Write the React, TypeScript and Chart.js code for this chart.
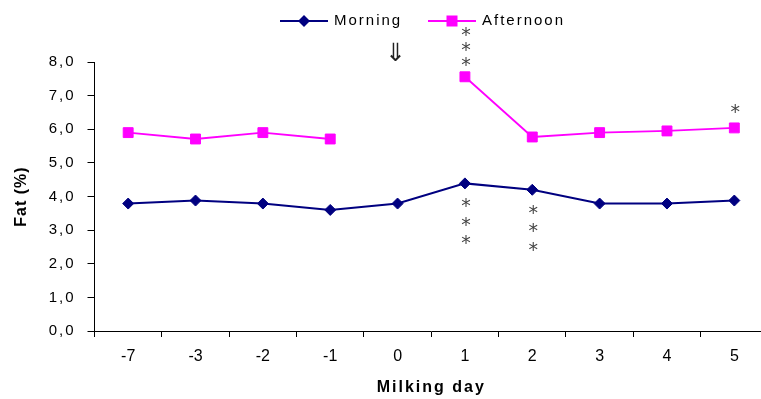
import React, { useEffect, useRef } from 'react';
import { Chart, registerables } from 'chart.js';

Chart.register(...registerables);

// ---- data ----
const days: string[] = ['-7', '-3', '-2', '-1', '0', '1', '2', '3', '4', '5'];
const morning: number[] = [3.79, 3.88, 3.79, 3.6, 3.79, 4.39, 4.2, 3.79, 3.79, 3.88];
const afternoon: (number | null)[] = [5.9, 5.71, 5.9, 5.71, null, 7.56, 5.77, 5.9, 5.95, 6.04];
const seriesNames: string[] = ['Morning', 'Afternoon'];
const yMin = 0;
const yMax = 8;
const yStep = 1;
const xTitle = 'Milking day';
const yTitle = 'Fat (%)';
// significance marks: series index, day index, number of stars, direction (-1 above, 1 below)
const sigSeries: number[] = [1, 0, 0, 1];
const sigDay: number[] = [5, 5, 6, 9];
const sigCount: number[] = [3, 3, 3, 1];
const sigDir: number[] = [-1, 1, 1, -1];
const arrowDayIndex = 4;

const NAVY = '#000080';
const MAGENTA = '#FF00FF';
const FONT = '"Liberation Sans", Arial, sans-serif';

function drawDiamond(ctx: CanvasRenderingContext2D, x: number, y: number, r: number, color: string) {
  ctx.beginPath();
  ctx.moveTo(x - r, y);
  ctx.lineTo(x, y - r);
  ctx.lineTo(x + r, y);
  ctx.lineTo(x, y + r);
  ctx.closePath();
  ctx.fillStyle = color;
  ctx.fill();
}

function drawSquare(ctx: CanvasRenderingContext2D, x: number, y: number, s: number, color: string) {
  ctx.fillStyle = color;
  ctx.fillRect(x - s / 2, y - s / 2, s, s);
}

function withSpacing(fn: any, spacing: string) {
  return function (this: any, ...args: any[]) {
    const c = this.ctx;
    const prev = c.letterSpacing;
    c.letterSpacing = spacing;
    fn.apply(this, args);
    c.letterSpacing = prev;
  };
}

const spacingPlugin = {
  id: 'spacing',
  beforeUpdate(chart: any) {
    chart.ctx.letterSpacing = '2px';
  },
  afterLayout(chart: any) {
    const xs = chart.scales.x;
    if (xs && !xs.__patched) {
      xs.drawLabels = withSpacing(xs.drawLabels, '0px');
      xs.__patched = true;
    }
    const ys = chart.scales.y;
    if (ys && !ys.__patched) {
      ys.drawTitle = withSpacing(ys.drawTitle, '1px');
      ys.__patched = true;
    }
  },
  beforeDraw(chart: any) {
    chart.ctx.letterSpacing = '2px';
  },
};

const annotPlugin = {
  id: 'annot',
  afterDatasetsDraw(chart: any) {
    const ctx: CanvasRenderingContext2D = chart.ctx;
    ctx.save();
    ctx.letterSpacing = '0px';
    // significance stars
    ctx.font = '19px "DejaVu Sans", sans-serif';
    ctx.fillStyle = '#444';
    ctx.textAlign = 'center';
    ctx.textBaseline = 'middle';
    for (let i = 0; i < sigSeries.length; i++) {
      const meta = chart.getDatasetMeta(sigSeries[i]);
      const pt = meta.data[sigDay[i]];
      if (!pt) continue;
      const dir = sigDir[i];
      const first = dir < 0 ? (sigCount[i] > 1 ? 15 : 19) : 20;
      const step = dir < 0 ? 15 : 18.5;
      for (let k = 0; k < sigCount[i]; k++) {
        ctx.fillText('*', pt.x + 1, pt.y + dir * (first + k * step) + 4);
      }
    }
    // arrow marking day 0
    const xs = chart.scales.x;
    const ys = chart.scales.y;
    ctx.font = '25px "DejaVu Sans", sans-serif';
    ctx.fillStyle = '#222';
    ctx.fillText('\u21D3', xs.getPixelForValue(arrowDayIndex) - 2, ys.getPixelForValue(yMax) - 8);
    ctx.restore();
  },
  afterDraw(chart: any) {
    const ctx: CanvasRenderingContext2D = chart.ctx;
    ctx.save();
    const y = 21;
    const items = [
      { x: 280, color: NAVY, kind: 'diamond' },
      { x: 428, color: MAGENTA, kind: 'square' },
    ];
    ctx.font = '15px ' + FONT;
    ctx.letterSpacing = '2px';
    ctx.textBaseline = 'middle';
    ctx.textAlign = 'left';
    items.forEach((it, i) => {
      ctx.strokeStyle = it.color;
      ctx.lineWidth = 2;
      ctx.beginPath();
      ctx.moveTo(it.x, y);
      ctx.lineTo(it.x + 48, y);
      ctx.stroke();
      if (it.kind === 'diamond') drawDiamond(ctx, it.x + 24, y, 6, it.color);
      else drawSquare(ctx, it.x + 24, y, 11, it.color);
      ctx.fillStyle = '#000';
      ctx.fillText(seriesNames[i], it.x + 54, y);
    });
    ctx.restore();
  },
};

export default function App() {
  const ref = useRef<HTMLCanvasElement | null>(null);

  useEffect(() => {
    document.body.style.margin = '0';
    document.body.style.overflow = 'hidden';
    document.documentElement.style.overflow = 'hidden';
    const canvas = ref.current!;
    const chart = new Chart(canvas, {
      type: 'line',
      data: {
        labels: days,
        datasets: [
          {
            label: seriesNames[0],
            data: morning,
            borderColor: NAVY,
            backgroundColor: NAVY,
            borderWidth: 2,
            pointStyle: 'rectRot',
            pointRadius: 5.5,
            pointBorderWidth: 1,
            pointBorderColor: NAVY,
            pointBackgroundColor: NAVY,
            tension: 0,
          },
          {
            label: seriesNames[1],
            data: afternoon,
            borderColor: MAGENTA,
            backgroundColor: MAGENTA,
            borderWidth: 1.8,
            pointStyle: 'rect',
            pointRadius: 7,
            pointBorderWidth: 1,
            pointBorderColor: MAGENTA,
            pointBackgroundColor: MAGENTA,
            tension: 0,
            spanGaps: false,
          },
        ],
      },
      options: {
        animation: false,
        responsive: false,
        devicePixelRatio: 1,
        layout: { padding: { top: 62, right: 12, bottom: 0, left: 0 } },
        plugins: {
          legend: { display: false },
          tooltip: { enabled: false },
        },
        scales: {
          x: {
            type: 'category',
            offset: true,
            grid: {
              offset: true,
              drawOnChartArea: false,
              drawTicks: true,
              tickLength: 6,
              color: '#000',
            },
            border: { display: true, color: '#000', width: 1 },
            ticks: {
              color: '#000',
              font: { family: FONT, size: 16 },
              padding: 10,
              maxRotation: 0,
            },
            title: {
              display: true,
              text: xTitle,
              color: '#000',
              font: { family: FONT, size: 16, weight: 'bold' },
              padding: { top: 0, bottom: 2 },
            },
            afterFit(scale: any) {
              scale.height = 68;
            },
          },
          y: {
            min: yMin,
            max: yMax,
            grid: {
              drawOnChartArea: false,
              drawTicks: true,
              tickLength: 7,
              color: '#000',
            },
            border: { display: true, color: '#000', width: 1 },
            ticks: {
              stepSize: yStep,
              color: '#000',
              font: { family: FONT, size: 15 },
              padding: 12,
              callback: (v: any) => Number(v).toFixed(1).replace('.', ','),
            },
            title: {
              display: true,
              text: yTitle,
              color: '#000',
              font: { family: FONT, size: 16, weight: 'bold' },
              padding: { top: 12, bottom: 0 },
            },
            afterFit(scale: any) {
              scale.width = 94.5;
            },
          },
        },
      },
      plugins: [spacingPlugin, annotPlugin],
    });
    return () => chart.destroy();
  }, []);

  return (
    <div style={{ position: 'absolute', left: 0, top: 0, width: 780, height: 399 }}>
      <canvas ref={ref} width={780} height={399} />
    </div>
  );
}
